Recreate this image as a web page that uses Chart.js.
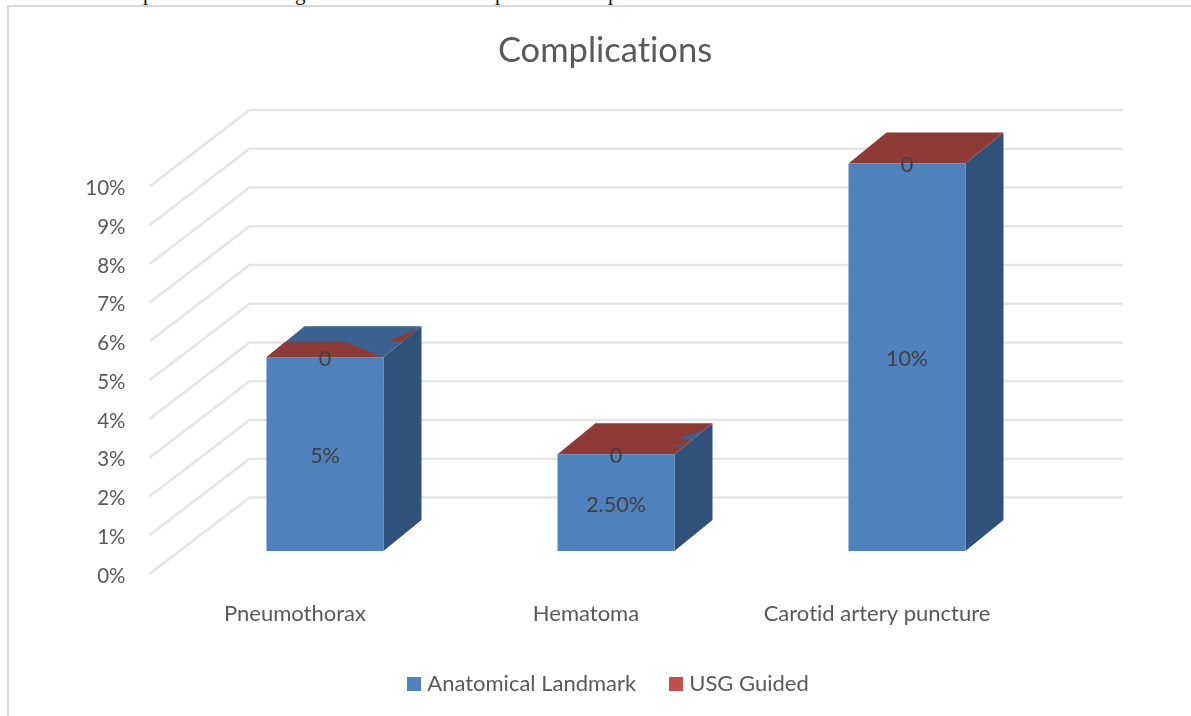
<!DOCTYPE html>
<html>
<head>
<meta charset="utf-8">
<title>Complications</title>
<script src="https://cdn.jsdelivr.net/npm/chart.js@4"></script>
<style>
    html, body { margin: 0; padding: 0; background: #fff; overflow: hidden; }
    #page { position: relative; width: 1191px; height: 716px; overflow: hidden; }
    /* chart frame, open on the right and at the bottom */
    #frame { position: absolute; left: 7px; top: 5px; right: 0; bottom: 0; border-top: 2px solid #d9d9d9; border-left: 2px solid #d9d9d9; }
    /* tail of the text line above the chart */
    #running { position: absolute; left: 0; top: 0; width: 100%; height: 5px; overflow: hidden; font: 21px "Liberation Serif", serif; color: #111; }
    #running span { position: absolute; top: -19px; line-height: 24px; }
    canvas { position: absolute; left: 0; top: 0; }
</style>
</head>
<body>
<div id="page">
    <div id="frame"></div>
    <div id="running">
        <span style="left:143px">p</span>
        <span style="left:295px">g</span>
        <span style="left:495px">p</span>
        <span style="left:608px">p</span>
    </div>
    <canvas id="chart" width="1191" height="716"></canvas>
</div>
<script>
// --------- Datos ---------
const CATEGORIES = ["Pneumothorax", "Hematoma", "Carotid artery puncture"];
const ANATOMICAL = [5, 2.5, 10];
const USG_GUIDED = [0, 0, 0];
const ANATOMICAL_LABELS = ["5%", "2.50%", "10%"];
const USG_LABELS = ["0", "0", "0"];
const Y_TICKS = ["0%", "1%", "2%", "3%", "4%", "5%", "6%", "7%", "8%", "9%", "10%"];

const TEXT_FONT = "Lato";
const TEXT_COLOR = "#595959";
const GRID_COLOR = "#e5e5e5";
const FRONT_BLUE = "#4f81bd";
const LEGEND_RED = "#c0504d";
const SIDE_BLUE = "#30527a";
const LID_BLUE = "#3a6291";
const LID_RED = "#8e3b38";

// Wall depth and where the bars stand on the floor
const WALL = { dx: 100, dy: -76.5 };
const BAR_SHIFT = { dx: 30, dy: -23 };
const BAR_DEPTH = { dx: 38, dy: -31 };

// The two lids share a plane and fight for it, (u, v) are fractions of the lid
const LIDS = [
    { base: LID_BLUE, patch: LID_RED, shapes: [
        [[0, 0], [1, 0], [0.53, 0.48], [0, 0.48]],
        [[0.87, 0.52], [1, 0.94], [1, 0.52]],
    ] },
    { base: LID_RED, patch: LID_BLUE, shapes: [
        [[0.87, 0.52], [1, 0.77], [0.99, 0.45]],
        [[0.89, 0.29], [0.98, 0.33], [0.94, 0.22]],
    ] },
    { base: LID_RED, patch: LID_BLUE, shapes: [] },
];

function poly(ctx, points, fill) {
    ctx.beginPath();
    points.forEach((p, i) => (i ? ctx.lineTo(p[0], p[1]) : ctx.moveTo(p[0], p[1])));
    ctx.closePath();
    ctx.fillStyle = fill;
    ctx.fill();
}

// Cuadrito de leyenda, mas ancho que la caja que reserva Chart.js
function swatch(color) {
    const c = document.createElement("canvas");
    c.width = 14;
    c.height = 14;
    const g = c.getContext("2d");
    g.fillStyle = color;
    g.fillRect(0, 0, 14, 14);
    return c;
}

// Paredes, caras laterales y tapas; el frente lo pinta Chart.js
const box3d = {
    id: "box3d",
    beforeLayout(chart) {
        // sin ligaduras "ti" en Lato; el contexto se reinicia al dimensionar el canvas
        chart.ctx.textRendering = "optimizeSpeed";
    },
    afterLayout(chart) {
        chart.legend.left += 5.5;
        chart.legend.right += 5.5;
    },
    beforeDatasetsDraw(chart) {
        const { ctx, scales } = chart;
        const yScale = scales.y;
        const xScale = scales.x;

        ctx.save();
        ctx.strokeStyle = GRID_COLOR;
        ctx.lineWidth = 2.5;
        yScale.ticks.forEach((t) => {
            const y = yScale.getPixelForValue(t.value);
            ctx.beginPath();
            ctx.moveTo(xScale.left, y);
            ctx.lineTo(xScale.left + WALL.dx, y + WALL.dy);
            ctx.lineTo(xScale.right + WALL.dx, y + WALL.dy);
            ctx.stroke();
        });

        ctx.translate(BAR_SHIFT.dx, BAR_SHIFT.dy);
        const front = chart.getDatasetMeta(0).data;
        const lids = chart.getDatasetMeta(1).data;
        front.forEach((bar, i) => {
            const left = bar.x - bar.width / 2;
            const right = bar.x + bar.width / 2;
            const top = lids[i].y;
            poly(ctx, [
                [right, bar.base],
                [right + BAR_DEPTH.dx, bar.base + BAR_DEPTH.dy],
                [right + BAR_DEPTH.dx, top + BAR_DEPTH.dy],
                [right, top],
            ], SIDE_BLUE);

            const onLid = ([u, v]) => [left + u * bar.width + v * BAR_DEPTH.dx, top + v * BAR_DEPTH.dy];
            const lid = LIDS[i];
            poly(ctx, [[0, 0], [1, 0], [1, 1], [0, 1]].map(onLid), lid.base);
            lid.shapes.forEach((s) => poly(ctx, s.map(onLid), lid.patch));
        });
        // se restaura en afterDatasetsDraw, las barras heredan el desplazamiento
    },
    afterDatasetsDraw(chart) {
        const { ctx } = chart;
        ctx.font = `21.5px ${TEXT_FONT}`;
        ctx.fillStyle = "#404040";
        ctx.textAlign = "center";
        ctx.textBaseline = "middle";
        chart.getDatasetMeta(0).data.forEach((bar, i) => {
            ctx.fillText(ANATOMICAL_LABELS[i], bar.x, (bar.y + bar.base) / 2 + 2);
        });
        chart.getDatasetMeta(1).data.forEach((bar, i) => {
            ctx.fillText(USG_LABELS[i], bar.x, bar.y + 2);
        });
        ctx.restore();
    },
};

new Chart(document.getElementById("chart"), {
    type: "bar",
    data: {
        labels: CATEGORIES,
        datasets: [
            { label: "Anatomical Landmark", data: ANATOMICAL, backgroundColor: FRONT_BLUE, pointStyle: swatch(FRONT_BLUE), stack: "s", borderWidth: 0 },
            { label: "USG Guided", data: USG_GUIDED, backgroundColor: LEGEND_RED, pointStyle: swatch(LEGEND_RED), stack: "s", borderWidth: 0 },
        ],
    },
    plugins: [box3d],
    options: {
        responsive: false,
        animation: false,
        events: [],
        clip: false,
        barPercentage: 0.402,
        categoryPercentage: 1,
        layout: { autoPadding: false, padding: { left: 19, right: 0, top: 0, bottom: 11 } },
        scales: {
            x: {
                stacked: true,
                grid: { display: false },
                border: { display: false },
                ticks: { color: TEXT_COLOR, font: { family: TEXT_FONT, size: 22 }, padding: 19, maxRotation: 0 },
                afterFit(s) { s.height = 61; },
            },
            y: {
                stacked: true,
                min: 0,
                max: 10,
                grid: { display: false, drawTicks: false },
                border: { display: false },
                ticks: {
                    stepSize: 1,
                    color: TEXT_COLOR,
                    font: { family: TEXT_FONT, size: 20.5 },
                    padding: 24,
                    labelOffset: 2,
                    callback: (v, i) => Y_TICKS[i],
                },
                afterFit(s) { s.width = 130.5; },
            },
            // solo reserva el hueco a la derecha de la pared frontal
            spacer: {
                type: "linear",
                position: "right",
                grid: { display: false },
                border: { display: false },
                ticks: { display: false },
                afterFit(s) { s.width = 168.5; },
            },
        },
        plugins: {
            tooltip: { enabled: false },
            title: {
                display: true,
                text: "Complications",
                color: TEXT_COLOR,
                font: { family: TEXT_FONT, size: 34.5, weight: "normal" },
                padding: { top: 30.3, bottom: 114.8 },
            },
            legend: {
                position: "bottom",
                labels: {
                    color: TEXT_COLOR,
                    font: { family: TEXT_FONT, size: 22 },
                    usePointStyle: true,
                    pointStyleWidth: 4,
                    padding: 38,
                },
            },
        },
    },
});
</script>
</body>
</html>
